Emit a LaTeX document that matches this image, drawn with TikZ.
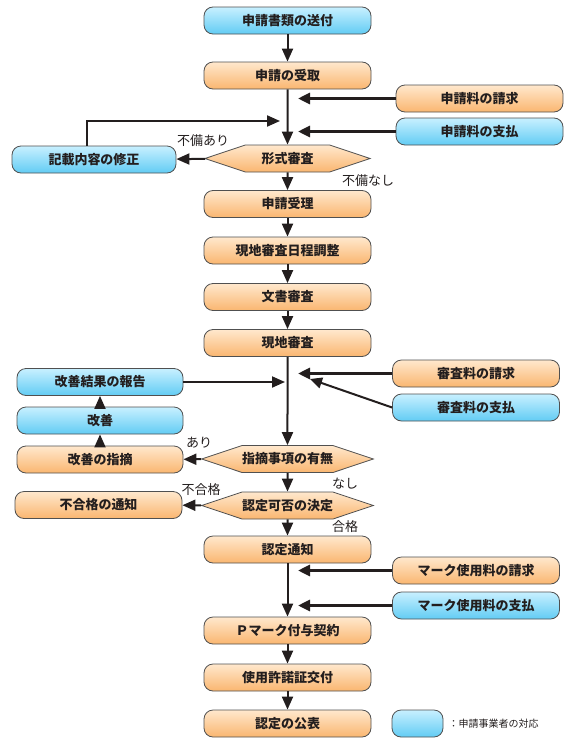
\documentclass[tikz,border=0pt]{standalone}
\usepackage{fontspec}
\setmainfont{Noto Sans CJK JP}
\usetikzlibrary{arrows.meta,shapes.symbols}
\definecolor{orA}{RGB}{255,232,205}
\definecolor{orB}{RGB}{250,182,112}
\definecolor{blA}{RGB}{200,240,255}
\definecolor{blB}{RGB}{98,204,244}
\definecolor{edge}{RGB}{80,80,80}
\definecolor{ink}{RGB}{35,30,30}
\tikzset{
  box/.style={rectangle, rounded corners=9pt, draw=edge, line width=0.8pt,
    minimum width=167pt, minimum height=27pt, inner sep=0pt,
    font=\fontsize{13}{15}\selectfont\bfseries, text=ink},
  orbox/.style={box, top color=orA, bottom color=orB},
  blbox/.style={box, top color=blA, bottom color=blB},
  hexa/.style={signal, signal to=west and east, signal pointer angle=37,
    draw=edge, line width=0.8pt, minimum width=165pt, minimum height=27pt,
    inner sep=0pt, top color=orA, bottom color=orB,
    font=\fontsize{13}{15}\selectfont\bfseries, text=ink},
  lab/.style={font=\fontsize{13}{15}\selectfont, text=ink},
  flow/.style={draw=ink, line width=2pt, -{Triangle[length=13pt,width=11pt]}},
  feed/.style={draw=ink, line width=3pt, -{Triangle[length=12pt,width=11pt]}},
  thinfeed/.style={draw=ink, line width=2pt, -{Triangle[length=12pt,width=11pt]}},
}
\begin{document}
\begin{tikzpicture}[x=1pt,y=-1pt]
\useasboundingbox (0,0) rectangle (572,747);
% main column
\node[blbox] (send) at (287.5,20.5) {申請書類の送付};
\node[orbox] (recv) at (287.5,75.5) {申請の受取};
\node[hexa] (check) at (287.5,158.5) {形式審査};
\node[orbox] (accept) at (287.5,204) {申請受理};
\node[orbox] (sched) at (287.5,250.5) {現地審査日程調整};
\node[orbox] (doc) at (287.5,297) {文書審査};
\node[orbox] (site) at (287.5,343) {現地審査};
\node[hexa] (find) at (287.5,459) {指摘事項の有無};
\node[hexa] (decide) at (287.5,505.5) {認定可否の決定};
\node[orbox] (notice) at (287.5,549.5) {認定通知};
\node[orbox] (contract) at (287.5,630.5) {Ｐマーク付与契約};
\node[orbox] (license) at (287.5,677.5) {使用許諾証交付};
\node[orbox] (publish) at (287.5,723.5) {認定の公表};
% right column
\node[orbox] (fee1) at (479.5,98.5) {申請料の請求};
\node[blbox] (fee2) at (479.5,131.5) {申請料の支払};
\node[orbox] (fee3) at (476,373.5) {審査料の請求};
\node[blbox] (fee4) at (476,407.5) {審査料の支払};
\node[orbox] (fee5) at (476,570.5) {マーク使用料の請求};
\node[blbox] (fee6) at (476,605.5) {マーク使用料の支払};
\node[blbox, minimum width=51pt] (legend) at (417.5,723.5) {};
\node[anchor=west, font=\fontsize{10}{12}\selectfont, text=ink] (legtext) at (445,723.5) {：申請事業者の対応};
% left column
\node[blbox, minimum width=164pt] (fix) at (94,159.5) {記載内容の修正};
\node[blbox, minimum width=166pt] (report) at (100,382) {改善結果の報告};
\node[blbox, minimum width=166pt] (improve) at (100,420.5) {改善};
\node[orbox, minimum width=166pt] (pointout) at (100,459.5) {改善の指摘};
\node[orbox, minimum width=167pt] (fail) at (98.5,505) {不合格の通知};
% free ends
\coordinate (c1) at (298,98.5);
\coordinate (c2) at (298,131.5);
\coordinate (c3) at (280,121);
\coordinate (c4) at (298,373.5);
\coordinate (c5) at (310,379);
\coordinate (c6) at (285,382);
\coordinate (c7) at (298,570.5);
\coordinate (c8) at (298,605.5);
% connectors
\draw[flow] (send) -- (recv);
\draw[flow] (recv) -- (check);
\draw[feed] (fee1) -- (c1);
\draw[feed] (fee2) -- (c2);
\draw[flow] ([xshift=-7pt]fix.north) |- (c3);
\draw[flow] (check) -- (fix);
\draw[flow] (check) -- (accept);
\draw[flow] (accept) -- (sched);
\draw[flow] (sched) -- (doc);
\draw[flow] (doc) -- (site);
\draw[flow] (site) -- (find);
\draw[feed] (fee3) -- (c4);
\draw[thinfeed] (fee4.west) -- (c5);
\draw[flow] (report) -- (c6);
\draw[flow] (pointout) -- (improve);
\draw[flow] (improve) -- (report);
\draw[flow] (find) -- (pointout);
\draw[flow] (find) -- (decide);
\draw[flow] (decide) -- (fail);
\draw[flow] (decide) -- (notice);
\draw[flow] (notice) -- (contract);
\draw[feed] (fee5) -- (c7);
\draw[feed] (fee6) -- (c8);
\draw[flow] (contract) -- (license);
\draw[flow] (license) -- (publish);
% labels
\node[lab] (l1) at (203,141) {不備あり};
\node[lab] (l2) at (368,181) {不備なし};
\node[lab] (l3) at (199,443) {あり};
\node[lab] (l4) at (345,484) {なし};
\node[lab] (l5) at (201,490) {不合格};
\node[lab] (l6) at (345,527) {合格};
\end{tikzpicture}
\end{document}
